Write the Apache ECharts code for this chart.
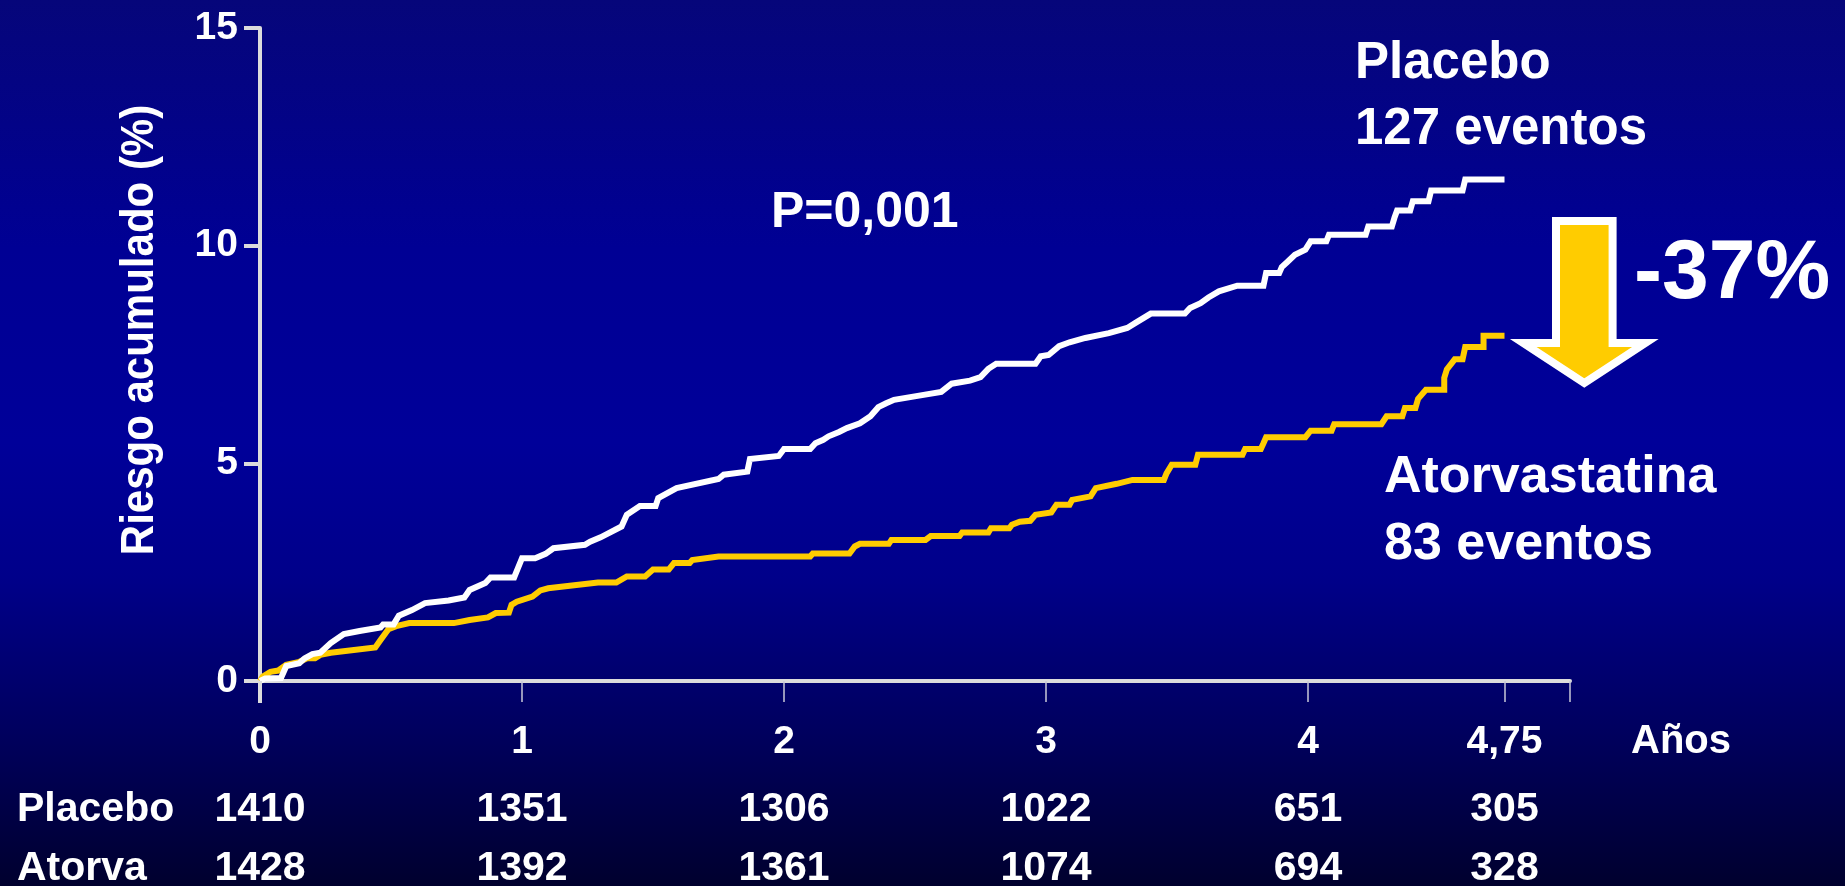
<!DOCTYPE html>
<html>
<head>
<meta charset="utf-8">
<script src="https://cdn.jsdelivr.net/npm/echarts@6/dist/echarts.min.js"></script>
<style>
  html, body { margin: 0; padding: 0; width: 1845px; height: 886px; overflow: hidden; }
  #chart {
    width: 1845px; height: 886px;
    background: linear-gradient(to bottom, #06067a 0%, #000094 28%, #000099 50%, #00008a 65%, #000060 82%, #00002e 100%);
  }
</style>
</head>
<body>
<div id="chart"></div>
<script>
// Follow-up times (years) that carry a tick and the patients still at risk there
const xTicks = [0, 1, 2, 3, 4, 4.75];
const atRiskPlacebo = [1410, 1351, 1306, 1022, 651, 305];
const atRiskAtorva = [1428, 1392, 1361, 1074, 694, 328];

// Cumulative risk (%) against time (years): [years, percent]
const placeboCurve = [
  [0, 0], [0.02, 0.06], [0.08, 0.07], [0.10, 0.34], [0.15, 0.41], [0.17, 0.52], [0.20, 0.62],
  [0.23, 0.65], [0.27, 0.87], [0.32, 1.08], [0.38, 1.15], [0.46, 1.23], [0.47, 1.30], [0.51, 1.30],
  [0.53, 1.50], [0.58, 1.63], [0.63, 1.79], [0.72, 1.85], [0.78, 1.92], [0.80, 2.09], [0.86, 2.25],
  [0.88, 2.38], [0.97, 2.38], [1.00, 2.82], [1.05, 2.82], [1.09, 2.92], [1.12, 3.05], [1.24, 3.13],
  [1.26, 3.20], [1.30, 3.30], [1.38, 3.55], [1.40, 3.82], [1.45, 4.02], [1.51, 4.02], [1.52, 4.20],
  [1.59, 4.43], [1.75, 4.64], [1.77, 4.74], [1.86, 4.81], [1.87, 5.10], [1.98, 5.17], [2.00, 5.33],
  [2.10, 5.33], [2.12, 5.46], [2.15, 5.54], [2.17, 5.62], [2.21, 5.72], [2.24, 5.81], [2.29, 5.92],
  [2.33, 6.08], [2.36, 6.29], [2.39, 6.38], [2.42, 6.46], [2.51, 6.55], [2.60, 6.64], [2.64, 6.83],
  [2.71, 6.90], [2.75, 6.98], [2.78, 7.17], [2.81, 7.29], [2.96, 7.29], [2.98, 7.46], [3.01, 7.49],
  [3.05, 7.69], [3.09, 7.78], [3.15, 7.88], [3.24, 7.99], [3.31, 8.11], [3.34, 8.22], [3.40, 8.44],
  [3.53, 8.44], [3.55, 8.57], [3.59, 8.68], [3.62, 8.81], [3.66, 8.95], [3.73, 9.08], [3.83, 9.08],
  [3.84, 9.37], [3.89, 9.37], [3.90, 9.51], [3.92, 9.62], [3.95, 9.79], [3.99, 9.91], [4.01, 10.10],
  [4.07, 10.10], [4.08, 10.25], [4.22, 10.25], [4.23, 10.44], [4.32, 10.44], [4.33, 10.64],
  [4.34, 10.81], [4.39, 10.81], [4.40, 11.02], [4.46, 11.02], [4.47, 11.27], [4.59, 11.27],
  [4.60, 11.52], [4.75, 11.52]
];
const atorvaCurve = [
  [0, 0], [0.01, 0.10], [0.04, 0.21], [0.07, 0.24], [0.10, 0.37], [0.15, 0.44], [0.18, 0.52],
  [0.21, 0.52], [0.23, 0.60], [0.27, 0.65], [0.44, 0.77], [0.46, 0.94], [0.49, 1.19], [0.52, 1.26],
  [0.57, 1.33], [0.74, 1.33], [0.80, 1.40], [0.87, 1.46], [0.90, 1.56], [0.95, 1.57], [0.96, 1.75],
  [0.98, 1.82], [1.04, 1.94], [1.07, 2.08], [1.10, 2.13], [1.29, 2.26], [1.36, 2.26], [1.40, 2.40],
  [1.47, 2.40], [1.50, 2.56], [1.56, 2.56], [1.58, 2.71], [1.64, 2.71], [1.65, 2.78], [1.75, 2.86],
  [2.10, 2.86], [2.11, 2.93], [2.25, 2.93], [2.27, 3.09], [2.29, 3.15], [2.40, 3.15], [2.41, 3.24],
  [2.54, 3.24], [2.56, 3.33], [2.67, 3.33], [2.68, 3.41], [2.78, 3.41], [2.79, 3.51], [2.86, 3.51],
  [2.87, 3.59], [2.90, 3.66], [2.94, 3.68], [2.96, 3.82], [3.02, 3.87], [3.04, 4.05], [3.09, 4.05],
  [3.10, 4.16], [3.17, 4.24], [3.19, 4.43], [3.27, 4.53], [3.33, 4.62], [3.45, 4.62], [3.46, 4.77],
  [3.48, 4.97], [3.57, 4.97], [3.58, 5.20], [3.75, 5.20], [3.76, 5.33], [3.82, 5.33], [3.83, 5.46],
  [3.84, 5.60], [3.99, 5.60], [4.01, 5.75], [4.09, 5.75], [4.10, 5.90], [4.28, 5.90], [4.30, 6.08],
  [4.36, 6.08], [4.37, 6.27], [4.41, 6.27], [4.42, 6.48], [4.45, 6.69], [4.52, 6.69], [4.52, 6.96],
  [4.53, 7.16], [4.56, 7.39], [4.59, 7.39], [4.60, 7.67], [4.67, 7.67], [4.67, 7.93], [4.75, 7.93]
];

const FONT = '"Liberation Sans", Arial, Helvetica, sans-serif';
const AXIS_GREY = '#dcdcdc';
const YELLOW = '#ffcc00';

function fmtComma(v) { return String(v).replace('.', ','); }

// Extra, invisible x axes that print the at-risk counts under each tick
function atRiskAxis(offset, counts) {
  return {
    type: 'value', gridIndex: 0, position: 'bottom', offset: offset,
    min: 0, max: 5,
    axisLine: { show: false }, axisTick: { show: false }, splitLine: { show: false },
    axisLabel: {
      customValues: xTicks,
      formatter: function (v) { return String(counts[xTicks.indexOf(v)]); },
      color: '#fff', fontFamily: FONT, fontWeight: 'bold', fontSize: 41,
      verticalAlign: 'middle', margin: 0
    }
  };
}

function label(text, x, y, size, align, extra) {
  const el = {
    type: 'text', x: x, y: y, silent: true,
    style: {
      text: text, fill: '#fff', fontFamily: FONT, fontWeight: 'bold', fontSize: size,
      textAlign: align || 'left', textVerticalAlign: 'middle'
    }
  };
  return Object.assign(el, extra || {});
}

const chart = echarts.init(document.getElementById('chart'), null, { renderer: 'canvas' });

const option = {
  animation: false,
  grid: { left: 260, right: 275, top: 28, bottom: 205, containLabel: false, outerBoundsMode: 'none' },
  xAxis: [
    {
      type: 'value', min: 0, max: 5,
      axisLine: { show: true, onZero: false, lineStyle: { color: AXIS_GREY, width: 4 } },
      axisTick: { show: true, customValues: [0, 1, 2, 3, 4, 4.75, 5], length: 21, lineStyle: { color: '#c8c8d8', width: 1.5 } },
      splitLine: { show: false },
      axisLabel: {
        customValues: xTicks, formatter: fmtComma,
        color: '#fff', fontFamily: FONT, fontWeight: 'bold', fontSize: 39, margin: 42
      }
    },
    atRiskAxis(129, atRiskPlacebo),
    atRiskAxis(188, atRiskAtorva)
  ],
  yAxis: {
    type: 'value', min: 0, max: 15, interval: 5,
    axisLine: { show: true, lineStyle: { color: AXIS_GREY, width: 4 } },
    axisTick: { show: true, length: 16, lineStyle: { color: AXIS_GREY, width: 4 } },
    splitLine: { show: false },
    axisLabel: { color: '#fff', fontFamily: FONT, fontWeight: 'bold', fontSize: 39, margin: 22 }
  },
  series: [
    {
      name: 'Atorvastatina', type: 'line', data: atorvaCurve, showSymbol: false, z: 3,
      lineStyle: { color: YELLOW, width: 6, join: 'miter' }
    },
    {
      name: 'Placebo', type: 'line', data: placeboCurve, showSymbol: false, z: 4,
      lineStyle: { color: '#ffffff', width: 6, join: 'miter' }
    }
  ],
  graphic: [
    label('Riesgo acumulado (%)', 140, 330, 42, 'center', { rotation: Math.PI / 2, scaleY: 1.12 }),
    label('P=0,001', 771, 213, 50),
    label('Placebo', 1355, 64, 51),
    label('127 eventos', 1355, 130, 51),
    label('Atorvastatina', 1384, 478, 52),
    label('83 eventos', 1384, 545, 52),
    label('-37%', 1634, 275, 84),
    label('Años', 1681, 742, 40, 'center'),
    label('Placebo', 17, 810, 41),
    label('Atorva', 17, 869, 41),
    {
      type: 'polygon', silent: true,
      shape: { points: [[1556, 221], [1612.6, 221], [1612.6, 343], [1645.3, 343], [1584.3, 383], [1523.3, 343], [1556, 343]] },
      style: { fill: YELLOW, stroke: '#ffffff', lineWidth: 8, lineJoin: 'miter' }
    }
  ]
};

chart.setOption(option);

// Thick stub of the vertical axis running below the origin
const o = chart.convertToPixel({ gridIndex: 0 }, [0, 0]);
chart.setOption({
  graphic: option.graphic.concat([{
    type: 'line', silent: true, z: 10,
    shape: { x1: o[0], y1: o[1], x2: o[0], y2: o[1] + 22 },
    style: { stroke: AXIS_GREY, lineWidth: 4 }
  }])
});
</script>
</body>
</html>
